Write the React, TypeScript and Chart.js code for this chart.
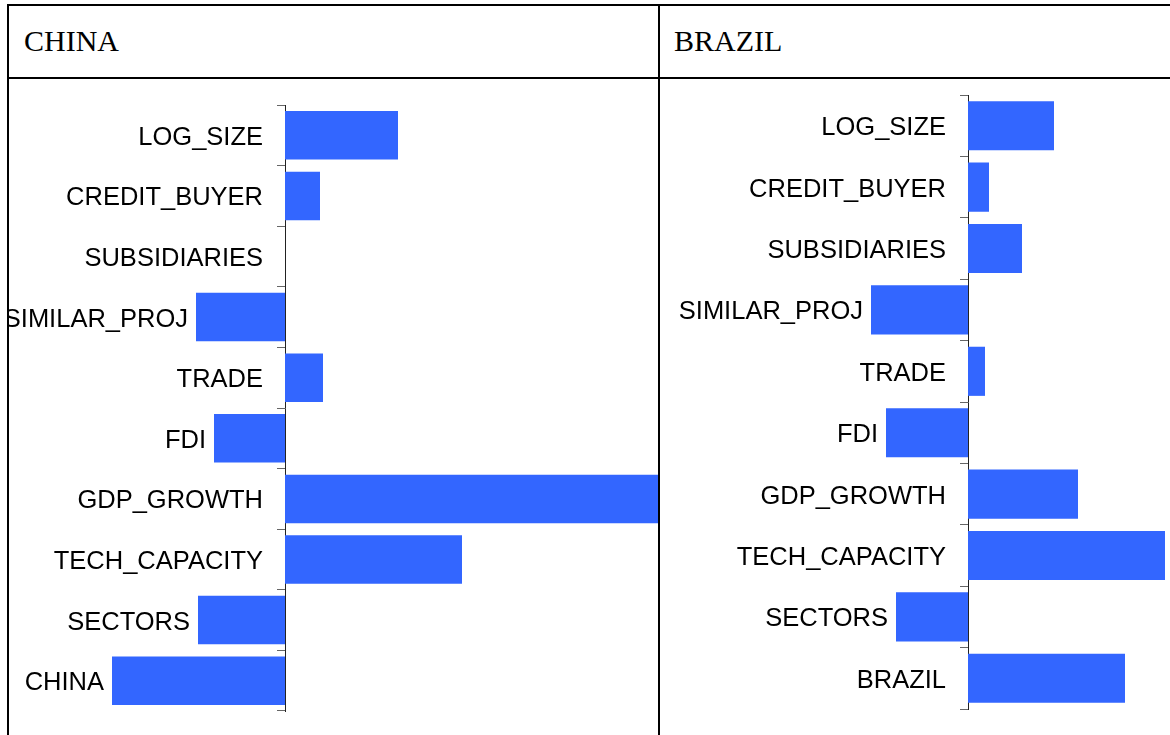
import React, { useEffect, useRef } from 'react';
import { Chart, registerables } from 'chart.js';

Chart.register(...registerables);

// ---- Data ----
const chinaCategories = [
  'LOG_SIZE', 'CREDIT_BUYER', 'SUBSIDIARIES', 'SIMILAR_PROJ', 'TRADE',
  'FDI', 'GDP_GROWTH', 'TECH_CAPACITY', 'SECTORS', 'CHINA',
];
const chinaValues = [1.13, 0.35, 0, -0.89, 0.38, -0.71, 3.9, 1.77, -0.87, -1.73];
const chinaRange = [-2.76, 3.73];

const brazilCategories = [
  'LOG_SIZE', 'CREDIT_BUYER', 'SUBSIDIARIES', 'SIMILAR_PROJ', 'TRADE',
  'FDI', 'GDP_GROWTH', 'TECH_CAPACITY', 'SECTORS', 'BRAZIL',
];
const brazilValues = [0.86, 0.21, 0.54, -0.97, 0.17, -0.82, 1.1, 1.97, -0.72, 1.57];
const brazilRange = [-3.08, 3.41];

const panelTitles = ['CHINA', 'BRAZIL'];

const BAR_COLOR = '#3366ff';
const LABEL_FONT = '25.5px "Liberation Sans", Arial, sans-serif';

const barLabelPlugin = {
  id: 'barLabels',
  afterDatasetsDraw(chart: any) {
    const ctx = chart.ctx;
    const meta = chart.getDatasetMeta(0);
    const zero = chart.scales.x.getPixelForValue(0);
    const labels = chart.data.labels as string[];
    ctx.save();
    ctx.font = LABEL_FONT;
    ctx.fillStyle = '#000';
    ctx.textAlign = 'right';
    ctx.textBaseline = 'alphabetic';
    meta.data.forEach((bar: any, i: number) => {
      const left = Math.min(bar.x, bar.base);
      const xEnd = Math.min(zero - 22, left - 8);
      ctx.fillText(labels[i], xEnd, bar.y + 9.5);
    });
    ctx.restore();
  },
};

type PanelProps = {
  labels: string[];
  values: number[];
  range: number[];
  padTop: number;
  padBottom: number;
  left: number;
  width: number;
  height: number;
  top: number;
};

function BarPanel({ labels, values, range, padTop, padBottom, left, width, height, top }: PanelProps) {
  const ref = useRef<HTMLCanvasElement>(null);
  useEffect(() => {
    const chart = new Chart(ref.current as HTMLCanvasElement, {
      type: 'bar',
      data: {
        labels,
        datasets: [
          {
            data: values,
            backgroundColor: BAR_COLOR,
            borderWidth: 0,
            barPercentage: 0.8,
            categoryPercentage: 1,
          },
        ],
      },
      options: {
        indexAxis: 'y',
        animation: false,
        responsive: false,
        maintainAspectRatio: false,
        layout: { padding: { top: padTop, bottom: padBottom, left: 0, right: 0 } },
        plugins: {
          legend: { display: false },
          tooltip: { enabled: false },
          title: { display: false },
        },
        scales: {
          x: {
            type: 'linear',
            min: range[0],
            max: range[1],
            display: false,
          },
          y: {
            type: 'category',
            position: { x: 0 } as any,
            offset: true,
            grid: {
              display: true,
              offset: true,
              drawOnChartArea: false,
              drawTicks: true,
              tickLength: 8,
              color: '#666',
              lineWidth: 1,
            },
            border: { display: true, color: '#222', width: 1 },
            ticks: { display: false },
          },
        },
      },
      plugins: [barLabelPlugin],
    } as any);
    return () => chart.destroy();
  }, []);
  return (
    <canvas
      ref={ref}
      width={width}
      height={height}
      style={{ position: 'absolute', left, top, width, height, display: 'block' }}
    />
  );
}

const line = (style: React.CSSProperties): React.CSSProperties => ({
  position: 'absolute',
  background: '#000',
  ...style,
});

export default function App() {
  const titleStyle: React.CSSProperties = {
    position: 'absolute',
    top: 26,
    fontFamily: '"Liberation Serif", "Times New Roman", serif',
    fontSize: 30,
    lineHeight: '30px',
    color: '#000',
    whiteSpace: 'nowrap',
  };
  return (
    <div
      style={{
        position: 'fixed',
        left: 0,
        top: 0,
        width: 1170,
        height: 735,
        overflow: 'hidden',
        background: '#fff',
      }}
    >
      <BarPanel
        labels={chinaCategories}
        values={chinaValues}
        range={chinaRange}
        padTop={26}
        padBottom={24}
        left={9}
        top={79}
        width={649}
        height={656}
      />
      <BarPanel
        labels={brazilCategories}
        values={brazilValues}
        range={brazilRange}
        padTop={16}
        padBottom={26}
        left={660}
        top={79}
        width={649}
        height={656}
      />
      <div style={{ ...titleStyle, left: 24 }}>{panelTitles[0]}</div>
      <div style={{ ...titleStyle, left: 674 }}>{panelTitles[1]}</div>
      {/* table borders */}
      <div style={line({ left: 7, top: 4, width: 1200, height: 2 })} />
      <div style={line({ left: 7, top: 77, width: 1200, height: 2 })} />
      <div style={line({ left: 7, top: 4, width: 2, height: 800 })} />
      <div style={line({ left: 658, top: 4, width: 2, height: 800 })} />
    </div>
  );
}
